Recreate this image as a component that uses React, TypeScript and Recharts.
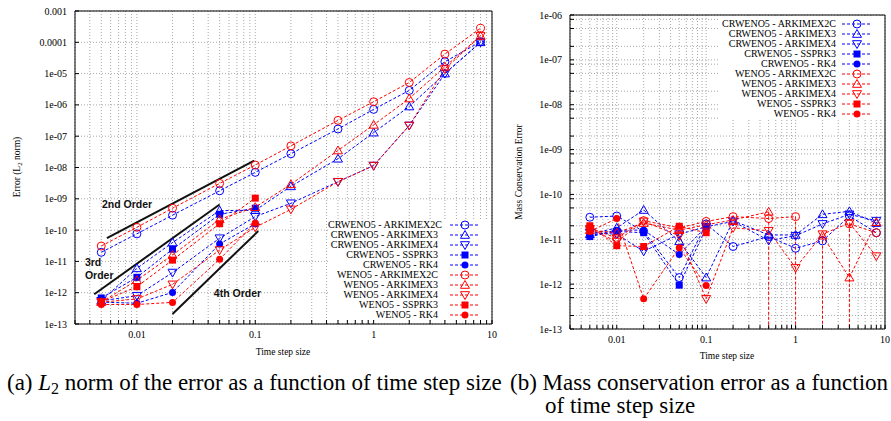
import React from 'react';
import {
  LineChart,
  Line,
  XAxis,
  YAxis,
  CartesianGrid,
  ReferenceLine,
  ReferenceArea,
  ReferenceDot,
} from 'recharts';

const stepSizes = [0.005, 0.01, 0.02, 0.05, 0.1, 0.2, 0.5, 1, 2, 4, 8];
const explicitSteps = [0.005, 0.01, 0.02, 0.05, 0.1];

const seriesNames = [
  'CRWENO5 - ARKIMEX2C',
  'CRWENO5 - ARKIMEX3',
  'CRWENO5 - ARKIMEX4',
  'CRWENO5 - SSPRK3',
  'CRWENO5 - RK4',
  'WENO5 - ARKIMEX2C',
  'WENO5 - ARKIMEX3',
  'WENO5 - ARKIMEX4',
  'WENO5 - SSPRK3',
  'WENO5 - RK4',
];
const seriesColors = ['#0000ff', '#0000ff', '#0000ff', '#0000ff', '#0000ff', '#ff0000', '#ff0000', '#ff0000', '#ff0000', '#ff0000'];
const seriesShapes = ['circle', 'up', 'down', 'square', 'dot', 'circle', 'up', 'down', 'square', 'dot'];

// (a) L2 norm of the error
const l2CrArk2c = [1.95e-11, 7.6e-11, 3e-10, 1.8e-9, 7e-9, 2.75e-8, 1.7e-7, 7.2e-7, 2.9e-6, 2.4e-5, 1.04e-4];
const l2CrArk3 = [5.5e-13, 6e-12, 4e-11, 4.2e-10, 4.3e-10, 2.5e-9, 1.9e-8, 1.3e-7, 8.9e-7, 1e-5, 1e-4];
const l2CrArk4 = [5.5e-13, 8e-13, 4.4e-12, 5.5e-11, 2.7e-10, 7.2e-10, 3.5e-9, 1.15e-8, 2.2e-7, 1e-5, 1e-4];
const l2CrSsprk3 = [6.8e-13, 3.1e-12, 2.45e-11, 3.2e-10, 5e-10];
const l2CrRk4 = [5e-13, 4.6e-13, 1.02e-12, 3.6e-11, 1.6e-10];
const l2WeArk2c = [3.1e-11, 1.23e-10, 5e-10, 3.1e-9, 1.2e-8, 4.9e-8, 3.2e-7, 1.26e-6, 5.2e-6, 4.2e-5, 2.8e-4];
const l2WeArk3 = [5e-13, 2.5e-12, 1.6e-11, 2.2e-10, 5.4e-10, 2.9e-9, 3.5e-8, 2.3e-7, 1.6e-6, 1.65e-5, 1.6e-4];
const l2WeArk4 = [5e-13, 6.3e-13, 1.85e-12, 2.3e-11, 1.23e-10, 4.6e-10, 3.5e-9, 1.15e-8, 2.2e-7, 1.4e-5, 1.6e-4];
const l2WeSsprk3 = [5.1e-13, 1.55e-12, 1.1e-11, 1.6e-10, 1.05e-9];
const l2WeRk4 = [4.2e-13, 4.2e-13, 4.9e-13, 1.17e-11, 1.7e-10];

// (b) mass conservation error, 0 = drops off the log axis
const massCrArk2c = [3.1e-11, 3.3e-11, 1.5e-11, 1.4e-12, 2.2e-11, 6.9e-12, 1.15e-11, 6.3e-12, 9.2e-12, 3.3e-11, 1.4e-11];
const massCrArk3 = [1.3e-11, 1.8e-11, 4.5e-11, 9e-12, 1.4e-12, 2.6e-11, 1.25e-11, 1.25e-11, 3.6e-11, 4.2e-11, 2.3e-11];
const massCrArk4 = [1.4e-11, 1.3e-11, 5.4e-12, 1.3e-11, 1.9e-11, 2.5e-11, 9.4e-12, 1.2e-11, 2.2e-11, 3.6e-11, 2.6e-11];
const massCrSsprk3 = [1.15e-11, 1.5e-11, 1.4e-11, 9.5e-13, 1.8e-11];
const massCrRk4 = [1.2e-11, 1.6e-11, 1.6e-11, 4.6e-12, 1.9e-11];
const massWeArk2c = [1.8e-11, 1.06e-11, 2.6e-11, 1.8e-11, 2.5e-11, 3.2e-11, 2.9e-11, 3.2e-11, 0, 2.2e-11, 1.4e-11];
const massWeArk3 = [1.6e-11, 1.4e-11, 2.3e-11, 1.6e-11, 2.1e-11, 2.7e-11, 4.1e-11, 0, 1.2e-11, 1.4e-12, 2.4e-11];
const massWeArk4 = [1.7e-11, 8.9e-12, 2.5e-11, 1.2e-11, 4.7e-13, 1.8e-11, 1.55e-11, 2.3e-12, 1.3e-11, 2.3e-11, 4.2e-12];
const massWeSsprk3 = [2e-11, 7.2e-12, 6.9e-12, 1.95e-11, 1.4e-11];
const massWeRk4 = [1.5e-11, 2.9e-11, 4.7e-13, 6.5e-12, 9.3e-13];

// reference slopes in panel (a): [x0, y0, x1, y1]
const orderLines = [
  [0.00558, 5.5e-11, 0.098, 1.65e-8],
  [0.00436, 8.9e-13, 0.05, 6.6e-10],
  [0.02, 2.1e-13, 0.106, 9.3e-11],
];
const orderLabels = [
  { text: '2nd Order', x: 0.00507, y: 6.7e-10 },
  { text: '3rd', x: 0.00364, y: 9.1e-12 },
  { text: 'Order', x: 0.00364, y: 3.7e-12 },
  { text: '4th Order', x: 0.0447, y: 9.3e-13 },
];

const xDomain = [0.003, 10];
const errDomain = [1e-13, 1e-3];
const massDomain = [1e-13, 1e-6];

const errTicks = [1e-13, 1e-12, 1e-11, 1e-10, 1e-9, 1e-8, 1e-7, 1e-6, 1e-5, 1e-4, 1e-3];
const massDecades = [1e-13, 1e-12, 1e-11, 1e-10, 1e-9, 1e-8, 1e-7];
const massMinor = [1, 2, 5, 8];
const xDecades = [0.001, 0.01, 0.1, 1];

const xTicks: number[] = [];
xDecades.forEach((d) => {
  for (let m = 1; m <= 9; m++) {
    const v = Number((m * d).toPrecision(6));
    if (v >= xDomain[0]) xTicks.push(v);
  }
});
xTicks.push(10);

const massTicks: number[] = [];
massDecades.forEach((d) => massMinor.forEach((m) => massTicks.push(Number((m * d).toPrecision(6)))));
massTicks.push(1e-6);

const isDecade = (v: number) => Math.abs(Math.log10(v) - Math.round(Math.log10(v))) < 1e-9;
const fmtX = (v: number) => (isDecade(v) ? String(v) : '');
const fmtY = (v: number) => {
  if (!isDecade(v)) return '';
  const e = Math.round(Math.log10(v));
  if (e >= -4) return v.toFixed(-e);
  return '1e-' + String(-e).padStart(2, '0');
};

const toPoints = (xs: number[], ys: number[]) => ys.map((y, i) => ({ x: xs[i], y: y > 0 ? y : null }));

// gnuplot draws a segment straight down to the axis next to a non-positive value
const dropsFor = (xs: number[], ys: number[], floor: number) => {
  const segs: { x: number; y: number }[][] = [];
  ys.forEach((y, i) => {
    if (y > 0) return;
    [i - 1, i + 1].forEach((j) => {
      if (j >= 0 && j < ys.length && ys[j] > 0) segs.push([{ x: xs[j], y: ys[j] }, { x: xs[j], y: floor }]);
    });
  });
  return segs;
};

const l2Series = [l2CrArk2c, l2CrArk3, l2CrArk4, l2CrSsprk3, l2CrRk4, l2WeArk2c, l2WeArk3, l2WeArk4, l2WeSsprk3, l2WeRk4];
const massSeries = [massCrArk2c, massCrArk3, massCrArk4, massCrSsprk3, massCrRk4, massWeArk2c, massWeArk3, massWeArk4, massWeSsprk3, massWeRk4];

const serif = '"Liberation Serif", "Times New Roman", serif';

function Marker({ shape, cx, cy, color }: { shape: string; cx: number; cy: number; color: string }) {
  if (cx == null || cy == null || isNaN(cx) || isNaN(cy)) return <g />;
  if (shape === 'circle') return <circle cx={cx} cy={cy} r={4} fill="none" stroke={color} strokeWidth={1} />;
  if (shape === 'up')
    return <polygon points={`${cx},${cy - 4.5} ${cx - 4.5},${cy + 3.3} ${cx + 4.5},${cy + 3.3}`} fill="none" stroke={color} strokeWidth={1} />;
  if (shape === 'down')
    return <polygon points={`${cx},${cy + 4.5} ${cx - 4.5},${cy - 3.3} ${cx + 4.5},${cy - 3.3}`} fill="none" stroke={color} strokeWidth={1} />;
  if (shape === 'square') return <rect x={cx - 3.5} y={cy - 3.5} width={7} height={7} fill={color} />;
  return <circle cx={cx} cy={cy} r={3.5} fill={color} />;
}

function renderSeries(all: number[][], prefix: string) {
  return all.map((ys, k) => {
    const xs = ys.length === stepSizes.length ? stepSizes : explicitSteps;
    return (
      <Line
        key={prefix + k}
        data={toPoints(xs, ys)}
        dataKey="y"
        type="linear"
        stroke={seriesColors[k]}
        strokeWidth={1}
        strokeDasharray="3 2"
        connectNulls={false}
        isAnimationActive={false}
        activeDot={false}
        dot={(p: any) => <Marker key={prefix + k + '-' + p.index} shape={seriesShapes[k]} cx={p.cx} cy={p.cy} color={seriesColors[k]} />}
      />
    );
  });
}

function InlineLegend({ left, top, width, height, textWidth, gap }: any) {
  return (
    <div style={{ position: 'absolute', left, top, width, height, background: '#fff' }}>
      {seriesNames.map((name, k) => (
        <div key={name} style={{ display: 'flex', height: 10, alignItems: 'center', marginTop: k === 0 ? 1 : 0 }}>
          <div style={{ width: textWidth, textAlign: 'right', whiteSpace: 'nowrap', fontFamily: serif, fontSize: 10, lineHeight: '10px' }}>
            {name}
          </div>
          <svg width={30} height={10} style={{ marginLeft: gap, display: 'block' }}>
            <line x1={0} y1={5} x2={30} y2={5} stroke={seriesColors[k]} strokeDasharray="3 2" />
            <Marker shape={seriesShapes[k]} cx={15} cy={5} color={seriesColors[k]} />
          </svg>
        </div>
      ))}
    </div>
  );
}

const tickStyle = { fontSize: 10, fontFamily: serif, fill: '#000' };
const tickMark = { stroke: '#000', strokeWidth: 1 };

// gnuplot-style frame: inward ticks on all four sides
function frameAxes(yDomain: number[], yTicks: number[], yWidth: number) {
  return [
    <XAxis
      key="xb"
      dataKey="x"
      type="number"
      scale="log"
      domain={xDomain}
      allowDataOverflow
      ticks={xTicks}
      interval={0}
      tickFormatter={fmtX}
      tickLine={tickMark}
      tickSize={-4}
      tickMargin={11}
      axisLine={false}
      height={16}
      tick={tickStyle}
    />,
    <XAxis
      key="xt"
      xAxisId="top"
      orientation="top"
      type="number"
      scale="log"
      domain={xDomain}
      allowDataOverflow
      ticks={xTicks}
      interval={0}
      tick={false}
      tickLine={tickMark}
      tickSize={-4}
      axisLine={false}
      height={0}
    />,
    <YAxis
      key="yl"
      type="number"
      scale="log"
      domain={yDomain}
      allowDataOverflow
      ticks={yTicks}
      interval={0}
      tickFormatter={fmtY}
      tickLine={tickMark}
      tickSize={-4}
      tickMargin={12}
      axisLine={false}
      width={yWidth}
      tick={tickStyle}
    />,
    <YAxis
      key="yr"
      yAxisId="right"
      orientation="right"
      type="number"
      scale="log"
      domain={yDomain}
      allowDataOverflow
      ticks={yTicks}
      interval={0}
      tick={false}
      tickLine={tickMark}
      tickSize={-4}
      axisLine={false}
      width={0}
    />,
  ];
}

export default function App() {
  const massDrops: { x: number; y: number }[][] = [];
  massSeries.forEach((ys) => {
    if (ys.length === stepSizes.length) massDrops.push(...dropsFor(stepSizes, ys, massDomain[0]));
  });

  return (
    <div style={{ position: 'absolute', left: 0, top: 0, width: 891, height: 421, background: '#fff', overflow: 'hidden' }}>
      <div style={{ position: 'absolute', left: 0, top: 0 }}>
        <LineChart width={505} height={340} margin={{ top: 11, right: 13, left: 0, bottom: 0 }}>
          <CartesianGrid stroke="#a8a8a8" strokeDasharray="1 2" />
          {frameAxes(errDomain, errTicks, 75)}
          <ReferenceArea x1={xDomain[0]} x2={xDomain[1]} y1={errDomain[0]} y2={errDomain[1]} fill="none" stroke="#000" strokeWidth={1} />
          {orderLines.map((s, i) => (
            <ReferenceLine
              key={'ord' + i}
              segment={[{ x: s[0], y: s[1] }, { x: s[2], y: s[3] }]}
              stroke="#111"
              strokeWidth={2}
              ifOverflow="visible"
            />
          ))}
          {orderLabels.map((l) => (
            <ReferenceDot
              key={l.text + l.y}
              x={l.x}
              y={l.y}
              r={0}
              fill="none"
              stroke="none"
              label={{
                value: l.text,
                position: 'right',
                offset: 0,
                fontSize: 10.5,
                fontWeight: 700,
                fontFamily: '"Liberation Sans", Arial, sans-serif',
                fill: '#111',
              }}
            />
          ))}
          {renderSeries(l2Series, 'l2-')}
        </LineChart>
      </div>

      <div style={{ position: 'absolute', left: 500, top: 0 }}>
        <LineChart width={391} height={345} margin={{ top: 15, right: 6, left: 0, bottom: 0 }}>
          <CartesianGrid stroke="#a8a8a8" strokeDasharray="1 2" />
          {frameAxes(massDomain, massTicks, 70)}
          <ReferenceArea x1={xDomain[0]} x2={xDomain[1]} y1={massDomain[0]} y2={massDomain[1]} fill="none" stroke="#000" strokeWidth={1} />
          {massDrops.map((seg, i) => (
            <Line
              key={'drop' + i}
              data={seg}
              dataKey="y"
              type="linear"
              stroke="#ff0000"
              strokeDasharray="3 2"
              dot={false}
              activeDot={false}
              isAnimationActive={false}
            />
          ))}
          {renderSeries(massSeries, 'm-')}
        </LineChart>
      </div>

      <InlineLegend left={328} top={219} width={163} height={100} textWidth={110} gap={12} />
      <InlineLegend left={718} top={18} width={166} height={101} textWidth={118} gap={6} />

      <svg width={891} height={421} style={{ position: 'absolute', left: 0, top: 0, pointerEvents: 'none' }}>
        <g fontFamily={serif} fill="#000">
          <text transform="translate(20,167) rotate(-90)" textAnchor="middle" fontSize={9.5}>
            Error (L<tspan fontSize={7} dy={2}>2</tspan>
            <tspan dy={-2}> norm)</tspan>
          </text>
          <text x={283} y={355} textAnchor="middle" fontSize={9.5}>
            Time step size
          </text>
          <text transform="translate(522,172) rotate(-90)" textAnchor="middle" fontSize={9.5}>
            Mass Conservation Error
          </text>
          <text x={727} y={359} textAnchor="middle" fontSize={9.5}>
            Time step size
          </text>
          <text x={7} y={390} fontSize={23}>
            (a) <tspan fontStyle="italic">L</tspan>
            <tspan fontSize={16} dy={4}>2</tspan>
            <tspan dy={-4}> norm of the error as a function of time step size</tspan>
          </text>
          <text x={510} y={390} fontSize={23}>
            (b) Mass conservation error as a function
          </text>
          <text x={545} y={413} fontSize={23}>
            of time step size
          </text>
        </g>
      </svg>
    </div>
  );
}
